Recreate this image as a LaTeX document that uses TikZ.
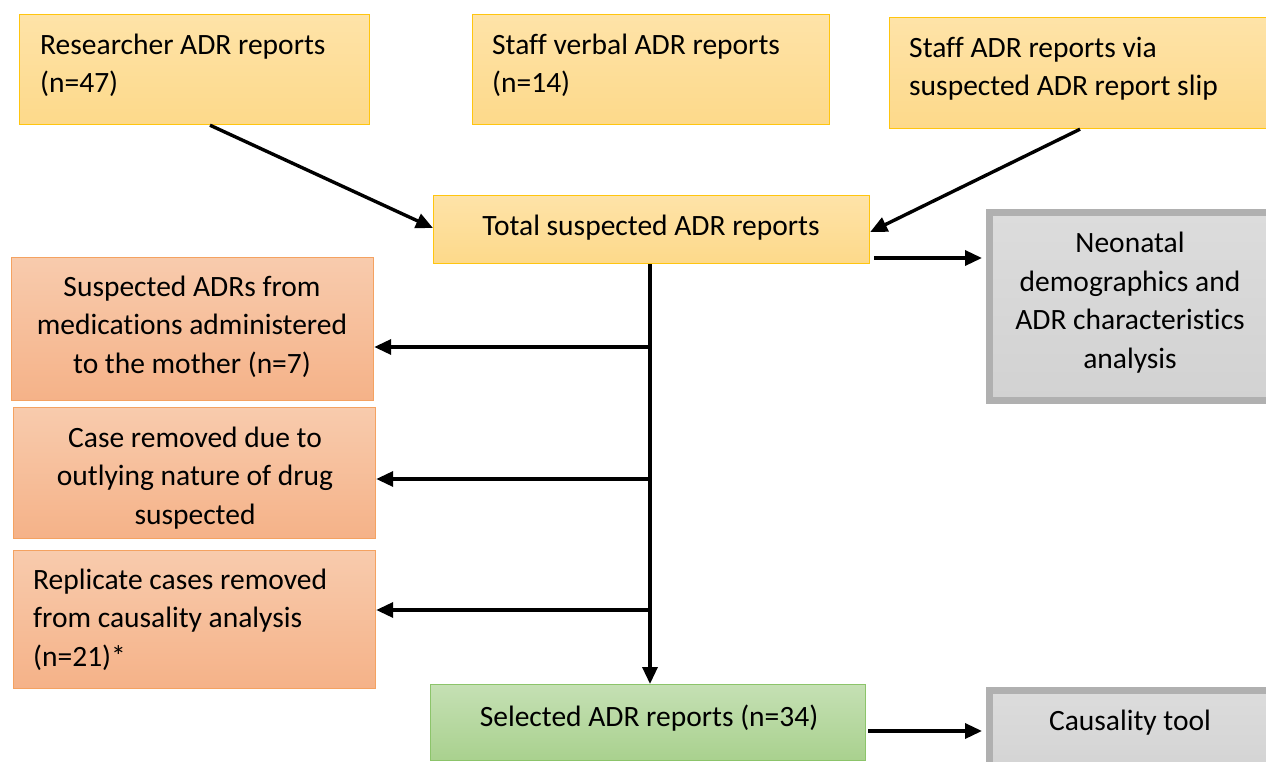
\documentclass[tikz,border=0pt]{standalone}
\usepackage{fontspec}
\setmainfont{Carlito}[Ligatures=NoCommon]
\usetikzlibrary{arrows.meta,calc}
\definecolor{ytop}{HTML}{FEE3A8}
\definecolor{ybot}{HTML}{FDD98A}
\definecolor{yline}{HTML}{FFC50F}
\definecolor{otop}{HTML}{F8CBAD}
\definecolor{obot}{HTML}{F5B288}
\definecolor{oline}{HTML}{F4A261}
\definecolor{gtop}{HTML}{C5E0B4}
\definecolor{gbot}{HTML}{A9D18E}
\definecolor{gline}{HTML}{8CC46A}
\definecolor{grtop}{HTML}{DCDCDC}
\definecolor{grbot}{HTML}{D2D2D2}
\definecolor{grline}{HTML}{B0B0B0}
\tikzset{
  box/.style={rectangle, inner sep=0, anchor=north west, line width=1.2pt},
  ybox/.style={box, draw=yline, top color=ytop, bottom color=ybot},
  obox/.style={box, draw=oline, top color=otop, bottom color=obot},
  gbox/.style={box, draw=gline, top color=gtop, bottom color=gbot},
  greybox/.style={box, draw=grline, line width=7pt, top color=grtop, bottom color=grbot},
  txt/.style={inner sep=0, font=\fontsize{29.5}{38.5}\selectfont},
  ltxt/.style={txt, align=left, anchor=base west},
  ctxt/.style={txt, align=center, anchor=base},
  arr/.style={line width=3.4pt, -{Triangle[length=17pt,width=15pt]}}
}
\begin{document}
\begin{tikzpicture}[x=1pt,y=-1pt]
\clip (0,0) rectangle (1266,762);
\fill[white] (0,0) rectangle (1266,762);
% boxes
\node[ybox, minimum width=350, minimum height=110] (res) at (19,14) {};
\node[ybox, minimum width=357, minimum height=110] (verb) at (472,14) {};
\node[ybox, minimum width=390, minimum height=111] (slip) at (889,17) {};
\node[ybox, minimum width=436, minimum height=68] (tot) at (433,195) {};
\node[greybox, minimum width=300, minimum height=187] (neo) at (985.5,209.5) {};
\node[obox, minimum width=362, minimum height=143] (mom) at (11,257) {};
\node[obox, minimum width=362, minimum height=131] (out) at (13,407) {};
\node[obox, minimum width=362, minimum height=138] (rep) at (13,550) {};
\node[gbox, minimum width=435, minimum height=76] (sel) at (430,684) {};
\node[greybox, minimum width=300, minimum height=100] (cau) at (985.5,686.5) {};
% texts (base anchor = last line's baseline)
\node[ltxt] (res-t) at (40,93) {Researcher ADR reports\\(n=47)};
\node[ltxt] (verb-t) at (492,93) {Staff verbal ADR reports\\(n=14)};
\node[ltxt] (slip-t) at (909,96) {Staff ADR reports via\\suspected ADR report slip};
\node[ctxt] (tot-t) at (651,235) {Total suspected ADR reports};
\node[ctxt] (neo-t) at (1130,368) {Neonatal\\demographics and\\ADR characteristics\\analysis};
\node[ctxt] (mom-t) at (192,373) {Suspected ADRs from\\medications administered\\to the mother (n=7)};
\node[ctxt] (out-t) at (195,524) {Case removed due to\\outlying nature of drug\\suspected};
\node[ltxt] (rep-t) at (33,666) {Replicate cases removed\\from causality analysis\\(n=21)*};
\node[ctxt] (sel-t) at (649,726) {Selected ADR reports (n=34)};
\node[ctxt] (cau-t) at (1130,730) {Causality tool};
% connectors
\coordinate (trunk) at (650,265);
\draw[arr] (res.south -| 210,0) -- (tot.west |- 0,228);
\draw[arr] (slip.south -| 1080,0) -- (tot.east |- 0,232);
\draw[arr] ($(tot.east |- 0,258)+(4,0)$) -- ($(neo.west |- 0,258)+(-3.5,0)$);
\draw[arr] (tot.south -| trunk) -- (sel.north -| trunk);
\draw[arr] (648,347) -- (mom.east |- 0,347);
\draw[arr] (648,479) -- (out.east |- 0,479);
\draw[arr] (648,610) -- (rep.east |- 0,610);
\draw[arr] ($(sel.east |- 0,731)+(2,0)$) -- ($(cau.west |- 0,731)+(-3.5,0)$);
\end{tikzpicture}
\end{document}
